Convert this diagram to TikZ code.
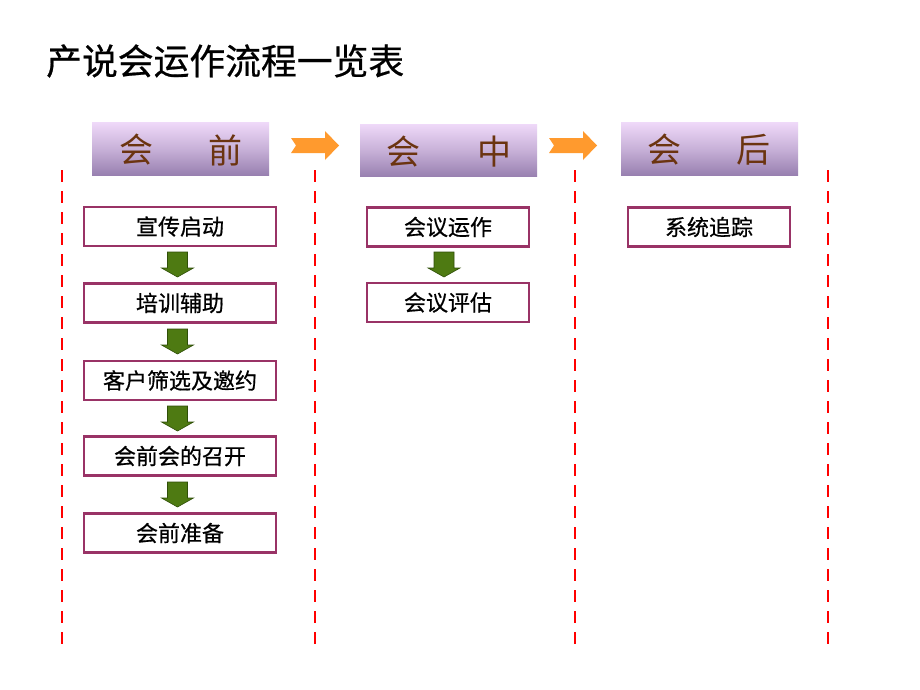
\documentclass[tikz,border=0pt]{standalone}
\usepackage{fontspec}
\newfontfamily\cjk{Noto Sans CJK SC}
\newfontfamily\cjkm[FakeBold=0.6]{Noto Sans CJK SC}
\usetikzlibrary{shapes.arrows,shadings}
\definecolor{boxline}{HTML}{993366}
\definecolor{garrow}{HTML}{4E7A12}
\definecolor{garrowd}{HTML}{2F4F08}
\definecolor{oarrow}{HTML}{FF9A2E}
\definecolor{htop}{HTML}{EED8F8}
\definecolor{hbot}{HTML}{9880B0}
\definecolor{htext}{HTML}{6B3410}
\begin{document}
\begin{tikzpicture}[x=1pt,y=-1pt,
  stepbox/.style={draw=boxline,line width=2.6pt,fill=white,minimum height=39pt,inner sep=0pt,font=\cjkm\fontsize{22}{22}\selectfont},
  headbox/.style={top color=htop,bottom color=hbot,middle color=htop!55!hbot,draw=none,minimum width=177pt,minimum height=52pt,inner sep=0pt},
  headtext/.style={font=\cjk\fontsize{34}{34}\selectfont,text=htext},
  dashline/.style={draw=red,line width=2.2pt,dash pattern=on 12pt off 9pt},
  garrowsty/.style={fill=garrow,draw=garrowd,line width=0.6pt},
  oarrowsty/.style={fill=oarrow,draw=none}
]
\useasboundingbox (0,0) rectangle (920,690);
\fill[white] (0,0) rectangle (920,690);
% title
\node[anchor=west,font=\cjkm\fontsize{35.8}{35.8}\selectfont,inner sep=0pt] (title) at (46,61) {产说会运作流程一览表};
% dashed lines
\foreach \xx/\nm in {62/d1,315/d2,575/d3,828/d4}{
  \coordinate (\nm t) at (\xx,170);
  \coordinate (\nm b) at (\xx,645);
  \draw[dashline] (\nm t) -- (\nm b);
}
% header boxes
\node[headbox] (h1) at (180.5,149) {};
\node[headbox] (h2) at (448.5,150.5) {};
\node[headbox] (h3) at (709.5,149) {};
\node[headtext] (h1a) at (136,150) {会};
\node[headtext] (h1b) at (225,150) {前};
\node[headtext] (h2a) at (403,152) {会};
\node[headtext] (h2b) at (494,152) {中};
\node[headtext] (h3a) at (664,150) {会};
\node[headtext] (h3b) at (753,150) {后};
% orange arrows
\foreach \xs/\nm in {291/o1,549/o2}{
  \fill[oarrowsty] (\xs,138) -- (\xs+34,138) -- (\xs+34,131) -- (\xs+48,145.5) -- (\xs+34,160) -- (\xs+34,153) -- (\xs,153) -- (\xs+5,145.5) -- cycle;
}
% column 1
\node[stepbox,minimum width=192pt] (a1) at (180,226.5) {宣传启动};
\node[stepbox,minimum width=192pt] (a2) at (180,303) {培训辅助};
\node[stepbox,minimum width=192pt] (a3) at (180,380.5) {客户筛选及邀约};
\node[stepbox,minimum width=192pt] (a4) at (180,456) {会前会的召开};
\node[stepbox,minimum width=192pt] (a5) at (180,533) {会前准备};
% column 2
\node[stepbox,minimum width=162pt] (b1) at (448,227) {会议运作};
\node[stepbox,minimum width=162pt] (b2) at (448,302.5) {会议评估};
% column 3
\node[stepbox,minimum width=162pt] (c1) at (709,227) {系统追踪};
% green arrows
\newcommand\garr[3]{% x, ytop, ybottom
  \draw[garrowsty] (#1-10,#2) -- (#1+10,#2) -- (#1+10,#3-9) -- (#1+16,#3-9) -- (#1,#3) -- (#1-16,#3-9) -- (#1-10,#3-9) -- cycle;}
\garr{177.5}{252}{277}
\garr{177.5}{329}{354}
\garr{177.5}{406}{431}
\garr{177.5}{482}{507}
\garr{444}{252}{277}
\end{tikzpicture}
\end{document}
